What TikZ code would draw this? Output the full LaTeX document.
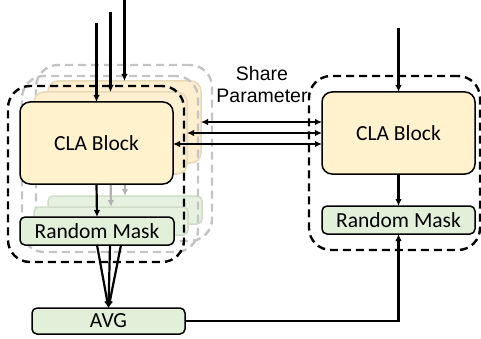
\documentclass[tikz,border=0pt]{standalone}
\usepackage{fontspec}
\setmainfont{Carlito}
\newfontfamily\arialfont{Liberation Sans}
\usetikzlibrary{arrows.meta}
\definecolor{claFill}{HTML}{FFF2CC}
\definecolor{claGhost}{HTML}{FDEFCF}
\definecolor{claGhostLine}{HTML}{E8DAB8}
\definecolor{maskFill}{HTML}{E2F0D9}
\definecolor{maskGhost}{HTML}{E6F2DF}
\definecolor{maskGhostLine}{HTML}{CFDCC8}
\definecolor{ghostLine}{HTML}{C4C4C4}
\begin{document}
\begin{tikzpicture}[x=1pt,y=-1pt,
  every node/.style={inner sep=0pt, outer sep=0pt},
  clabox/.style={draw=black, line width=1.5pt, fill=claFill, rounded corners=10pt,
    minimum width=153pt, minimum height=82pt, anchor=north west, font=\fontsize{21.5}{24}\selectfont},
  maskbox/.style={draw=black, line width=1.5pt, fill=maskFill, rounded corners=5pt,
    minimum width=154pt, minimum height=28pt, anchor=north west, font=\fontsize{21.5}{24}\selectfont},
  claghost/.style={draw=claGhostLine, fill=claGhost},
  maskghost/.style={draw=maskGhostLine, fill=maskGhost},
  grp/.style={draw=black, line width=2.4pt, dash pattern=on 8pt off 5pt, rounded corners=22pt,
    minimum width=176pt, minimum height=176pt, anchor=north west},
  ghostgrp/.style={grp, draw=ghostLine},
  link/.style={line width=2.2pt, -{Latex[length=7pt,width=6.5pt]}},
  ghostlink/.style={link, draw=black!30},
  share/.style={line width=2.2pt, {Latex[length=7pt,width=6.5pt]}-{Latex[length=7pt,width=6.5pt]}}
]
\useasboundingbox (0,0) rectangle (481,339);

% back copy (third layer)
\node[ghostgrp] (g3) at (36,65) {};
\node[clabox, claghost] (l3) at (48,81) {};
\node[maskbox, maskghost] (m3) at (48,196) {};
\draw[ghostlink] (l3.south) -- (m3.north);

% middle copy (second layer)
\node[ghostgrp] (g2) at (22,76) {};
\node[clabox, claghost] (l2) at (34,92) {};
\node[maskbox, maskghost] (m2) at (34,207) {};
\draw[ghostlink] (l2.south) -- (m2.north);

% front copy
\node[grp] (g1) at (8,86) {};
\node[clabox] (l1) at (20,102) {CLA Block};
\node[maskbox] (m1) at (20,217) {Random Mask};
\draw[link] (l1.south) -- (m1.north);

% right branch
\node[grp, minimum width=171pt, minimum height=174pt] (gr) at (309,76) {};
\node[clabox] (r) at (322,92) {CLA Block};
\node[maskbox, minimum width=153pt] (rm) at (322,206) {Random Mask};
\draw[link] (r.south) -- (rm.north);

% averaging
\node[maskbox, minimum width=153pt, minimum height=26pt] (avg) at (32,308) {AVG};

% inputs
\coordinate (t1) at (96.5,23);
\coordinate (t2) at (110.5,12);
\coordinate (t3) at (124.5,0);
\coordinate (tr) at (398.5,28);
\draw[link] (t1) -- (t1 |- l1.north);
\draw[link] (t2) -- (t2 |- l2.north);
\draw[link] (t3) -- (t3 |- l3.north);
\draw[link] (tr) -- (r.north);

% shared parameters
\coordinate (h3) at (0,122);
\coordinate (h2) at (0,133);
\coordinate (h1) at (0,144);
\draw[share] (l3.east |- h3) -- (r.west |- h3);
\draw[share] (l2.east |- h2) -- (r.west |- h2);
\draw[share] (l1.east |- h1) -- (r.west |- h1);
\node[font=\arialfont\fontsize{19.5}{23}\selectfont, align=center, anchor=center] (lbl) at (262,85)
  {Share\\[-1pt]Parameter};

% masks to average
\coordinate (a1) at (97,245);
\coordinate (a2) at (110,245);
\coordinate (a3) at (121,245);
\draw[link] (a1) -- (avg.north);
\draw[link] (a2) -- (avg.north);
\draw[link] (a3) -- (avg.north);
\draw[link] (avg.east) -| (rm.south);
\end{tikzpicture}
\end{document}
